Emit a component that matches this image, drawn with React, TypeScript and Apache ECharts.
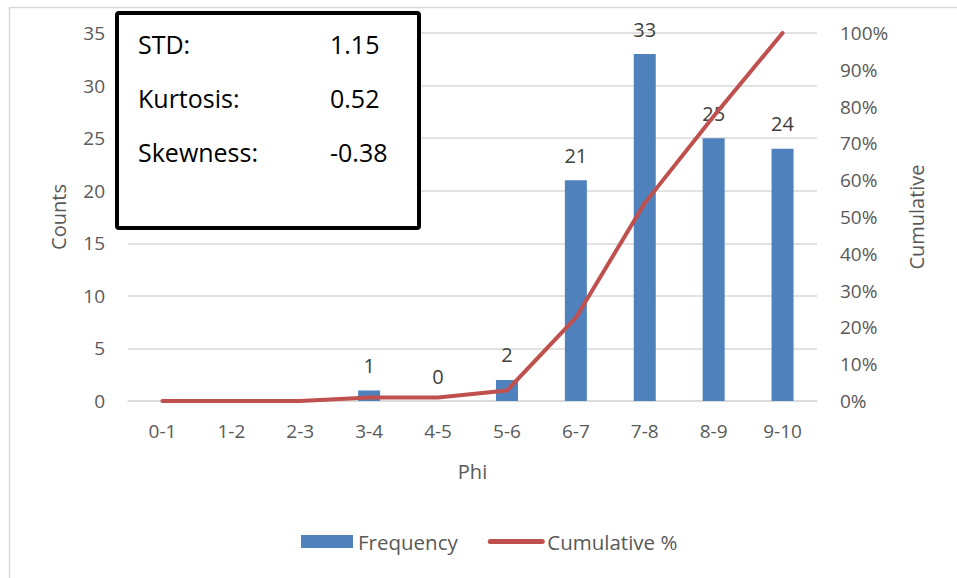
import React, { useEffect, useRef } from "react";
import * as echarts from "echarts";

const categories = ["0-1", "1-2", "2-3", "3-4", "4-5", "5-6", "6-7", "7-8", "8-9", "9-10"];
const frequency = [0, 0, 0, 1, 0, 2, 21, 33, 25, 24];
const cumulativePct = [0, 0, 0, 0.94, 0.94, 2.83, 22.64, 53.77, 77.36, 100];
const labelFromIndex = 3;
const statNames = ["STD:", "Kurtosis:", "Skewness:"];
const statValues = ["1.15", "0.52", "-0.38"];

const FONT = "'Open Sans', 'Liberation Sans', sans-serif";
const GRAY = "#595959";

export default function App() {
  const ref = useRef<HTMLDivElement>(null);
  useEffect(() => {
    if (!ref.current) return;
    const chart = echarts.init(ref.current, null, { renderer: "svg" });
    const statRows = statNames.flatMap((n, i) => [
      {
        type: "text",
        left: 138,
        top: 46 + i * 54 - 15,
        style: { text: n, font: `25px ${FONT}`, fill: "#000" },
        z: 20,
      },
      {
        type: "text",
        left: 330,
        top: 46 + i * 54 - 15,
        style: { text: statValues[i], font: `25px ${FONT}`, fill: "#000" },
        z: 20,
      },
    ]);
    chart.setOption({
      animation: false,
      textStyle: { fontFamily: FONT },
      grid: { left: 128, right: 140, top: 33, bottom: 177, containLabel: false },
      legend: {
        left: 296,
        top: 526,
        itemWidth: 52,
        itemHeight: 13,
        itemGap: 30,
        textStyle: { fontSize: 20.5, color: GRAY, fontFamily: FONT },
        data: [
          { name: "Frequency", icon: "rect" },
          {
            name: "Cumulative %",
            itemStyle: { opacity: 0 },
            lineStyle: { width: 5, cap: "round", color: "#C0504D" },
          },
        ],
      },
      xAxis: {
        type: "category",
        data: categories,
        name: "Phi",
        nameLocation: "middle",
        nameGap: 60,
        nameTextStyle: { fontSize: 20, color: GRAY },
        axisLine: { lineStyle: { color: "#d9d9d9", width: 1.5 } },
        axisTick: { show: false },
        axisLabel: { fontSize: 19, color: GRAY, margin: 20 },
      },
      yAxis: [
        {
          type: "value",
          min: 0,
          max: 35,
          interval: 5,
          name: "Counts",
          nameLocation: "middle",
          nameGap: 60,
          nameTextStyle: { fontSize: 20, color: GRAY },
          axisLabel: { fontSize: 19, color: GRAY, margin: 23 },
          splitLine: { lineStyle: { color: "#d9d9d9", width: 1.5 } },
          axisLine: { show: false },
          axisTick: { show: false },
        },
        {
          type: "value",
          min: 0,
          max: 100,
          interval: 10,
          name: "Cumulative",
          nameLocation: "middle",
          nameGap: 89,
          nameTextStyle: { fontSize: 20, color: GRAY },
          axisLabel: { fontSize: 19, color: GRAY, margin: 23, formatter: "{value}%" },
          splitLine: { show: false },
          axisLine: { show: false },
          axisTick: { show: false },
        },
      ],
      series: [
        {
          name: "Frequency",
          type: "bar",
          barWidth: 22,
          itemStyle: { color: "#4F81BD" },
          label: { show: false, position: "top", distance: 15, fontSize: 20, color: "#404040" },
          data: frequency.map((v, i) => ({
            value: v,
            label: { show: i >= labelFromIndex },
          })),
          z: 2,
        },
        {
          name: "Cumulative %",
          type: "line",
          yAxisIndex: 1,
          symbol: "none",
          lineStyle: { color: "#C0504D", width: 4, cap: "round", join: "round" },
          itemStyle: { color: "#C0504D" },
          data: cumulativePct,
          z: 5,
        },
      ],
      graphic: [
        {
          type: "rect",
          left: 7,
          top: 5,
          shape: { width: 960, height: 600 },
          style: { fill: "none", stroke: "#d9d9d9", lineWidth: 1.5 },
          silent: true,
        },
        {
          type: "rect",
          left: 115,
          top: 11,
          shape: { width: 302, height: 215, r: 2 },
          style: { fill: "#fff", stroke: "#000", lineWidth: 4 },
          z: 19,
        },
        ...statRows,
      ],
    });
    return () => chart.dispose();
  }, []);
  return (
    <div
      ref={ref}
      style={{ position: "fixed", left: 0, top: 0, width: 957, height: 578, background: "#fff" }}
    />
  );
}
